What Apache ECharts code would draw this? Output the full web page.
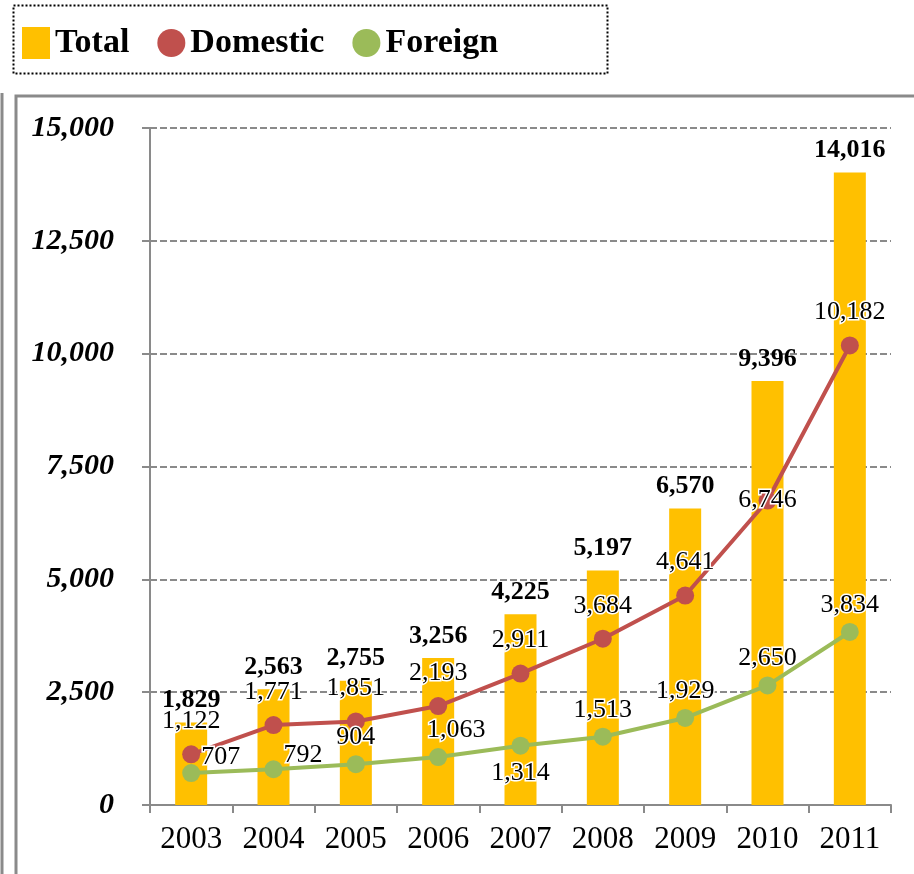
<!DOCTYPE html>
<html>
<head>
<meta charset="utf-8">
<title>Total / Domestic / Foreign</title>
<style>
  html, body { margin: 0; padding: 0; background: #fff; }
  #main { width: 914px; height: 874px; }
</style>
<script src="https://cdn.jsdelivr.net/npm/echarts@6/dist/echarts.min.js"></script>
</head>
<body>
<div id="main"></div>
<script>
var years = ['2003', '2004', '2005', '2006', '2007', '2008', '2009', '2010', '2011'];
var total = [1829, 2563, 2755, 3256, 4225, 5197, 6570, 9396, 14016];
var domestic = [1122, 1771, 1851, 2193, 2911, 3684, 4641, 6746, 10182];
var foreign = [707, 792, 904, 1063, 1314, 1513, 1929, 2650, 3834];

var serif = '"Liberation Serif", "DejaVu Serif", serif';
var grey = '#8a8a8a';

function fmt(v) {
  return String(v).replace(/\B(?=(\d{3})+(?!\d))/g, ',');
}

// label placement tweaks, by index
var foreignPos = ['right', 'right', 'top', 'top', 'bottom', 'top', 'top', 'top', 'top'];
var foreignOff = [[-4, -16], [-4, -14], [0, 0], [18, 0], [0, 0], [0, 0], [0, 0], [0, 0], [0, 0]];
var domesticPos = ['top', 'top', 'top', 'top', 'top', 'top', 'top', 'inside', 'top'];

var myChart = echarts.init(document.getElementById('main'));

var option = {
  animation: false,
  textStyle: { fontFamily: serif },
  legend: {
    left: 17,
    top: 21,
    itemWidth: 28,
    itemHeight: 32,
    itemGap: 28,
    textStyle: { fontFamily: serif, fontWeight: 'bold', fontSize: 34, color: '#000' },
    data: [
      { name: 'Total', icon: 'rect' },
      { name: 'Domestic', icon: 'circle' },
      { name: 'Foreign', icon: 'circle' }
    ]
  },
  graphic: [
    { type: 'rect', shape: { x: 13.5, y: 5.5, width: 594, height: 68 },
      style: { fill: 'none', stroke: '#000', lineWidth: 2, lineDash: [2, 2] } },
    { type: 'line', shape: { x1: 2, y1: 93, x2: 2, y2: 874 },
      style: { stroke: grey, lineWidth: 3 } },
    { type: 'rect', shape: { x: 16, y: 96, width: 920, height: 800 },
      style: { fill: 'none', stroke: grey, lineWidth: 3 } }
  ],
  grid: { left: 150, right: 23, top: 128, bottom: 69 },
  xAxis: {
    type: 'category',
    data: years,
    axisLine: { lineStyle: { color: grey, width: 2 } },
    axisTick: { show: true, length: 8, lineStyle: { color: grey, width: 2 } },
    axisLabel: { color: '#000', fontSize: 31, fontFamily: serif, margin: 19 }
  },
  yAxis: {
    type: 'value',
    min: 0,
    max: 15000,
    interval: 2500,
    axisLine: { show: true, lineStyle: { color: grey, width: 2 } },
    axisTick: { show: true, length: 8, lineStyle: { color: grey, width: 2 } },
    axisLabel: {
      color: '#000', fontSize: 30, fontFamily: serif,
      fontWeight: 'bold', fontStyle: 'italic', margin: 36,
      formatter: fmt
    },
    splitLine: { lineStyle: { color: grey, width: 2, type: [7, 3] } }
  },
  series: [
    {
      name: 'Total',
      type: 'bar',
      barWidth: 32,
      itemStyle: { color: '#FFC000' },
      label: {
        show: true, position: 'top', distance: 9,
        fontFamily: serif, fontSize: 26, fontWeight: 'bold', color: '#000',
        formatter: function (p) { return fmt(p.value); }
      },
      data: total
    },
    {
      name: 'Domestic',
      type: 'line',
      symbol: 'circle',
      symbolSize: 18,
      lineStyle: { color: '#C0504D', width: 4 },
      itemStyle: { color: '#C0504D' },
      label: {
        show: true, distance: 11,
        fontFamily: serif, fontSize: 26, color: '#000',
        textBorderColor: '#fff', textBorderWidth: 3,
        formatter: function (p) { return fmt(p.value); }
      },
      data: domestic.map(function (v, i) {
        return { value: v, label: { position: domesticPos[i] } };
      })
    },
    {
      name: 'Foreign',
      type: 'line',
      symbol: 'circle',
      symbolSize: 18,
      lineStyle: { color: '#9BBB59', width: 4 },
      itemStyle: { color: '#9BBB59' },
      label: {
        show: true, distance: 5,
        fontFamily: serif, fontSize: 26, color: '#000',
        textBorderColor: '#fff', textBorderWidth: 3,
        formatter: function (p) { return fmt(p.value); }
      },
      data: foreign.map(function (v, i) {
        return { value: v, label: { position: foreignPos[i], offset: foreignOff[i] } };
      })
    }
  ]
};

myChart.setOption(option);
</script>
</body>
</html>
